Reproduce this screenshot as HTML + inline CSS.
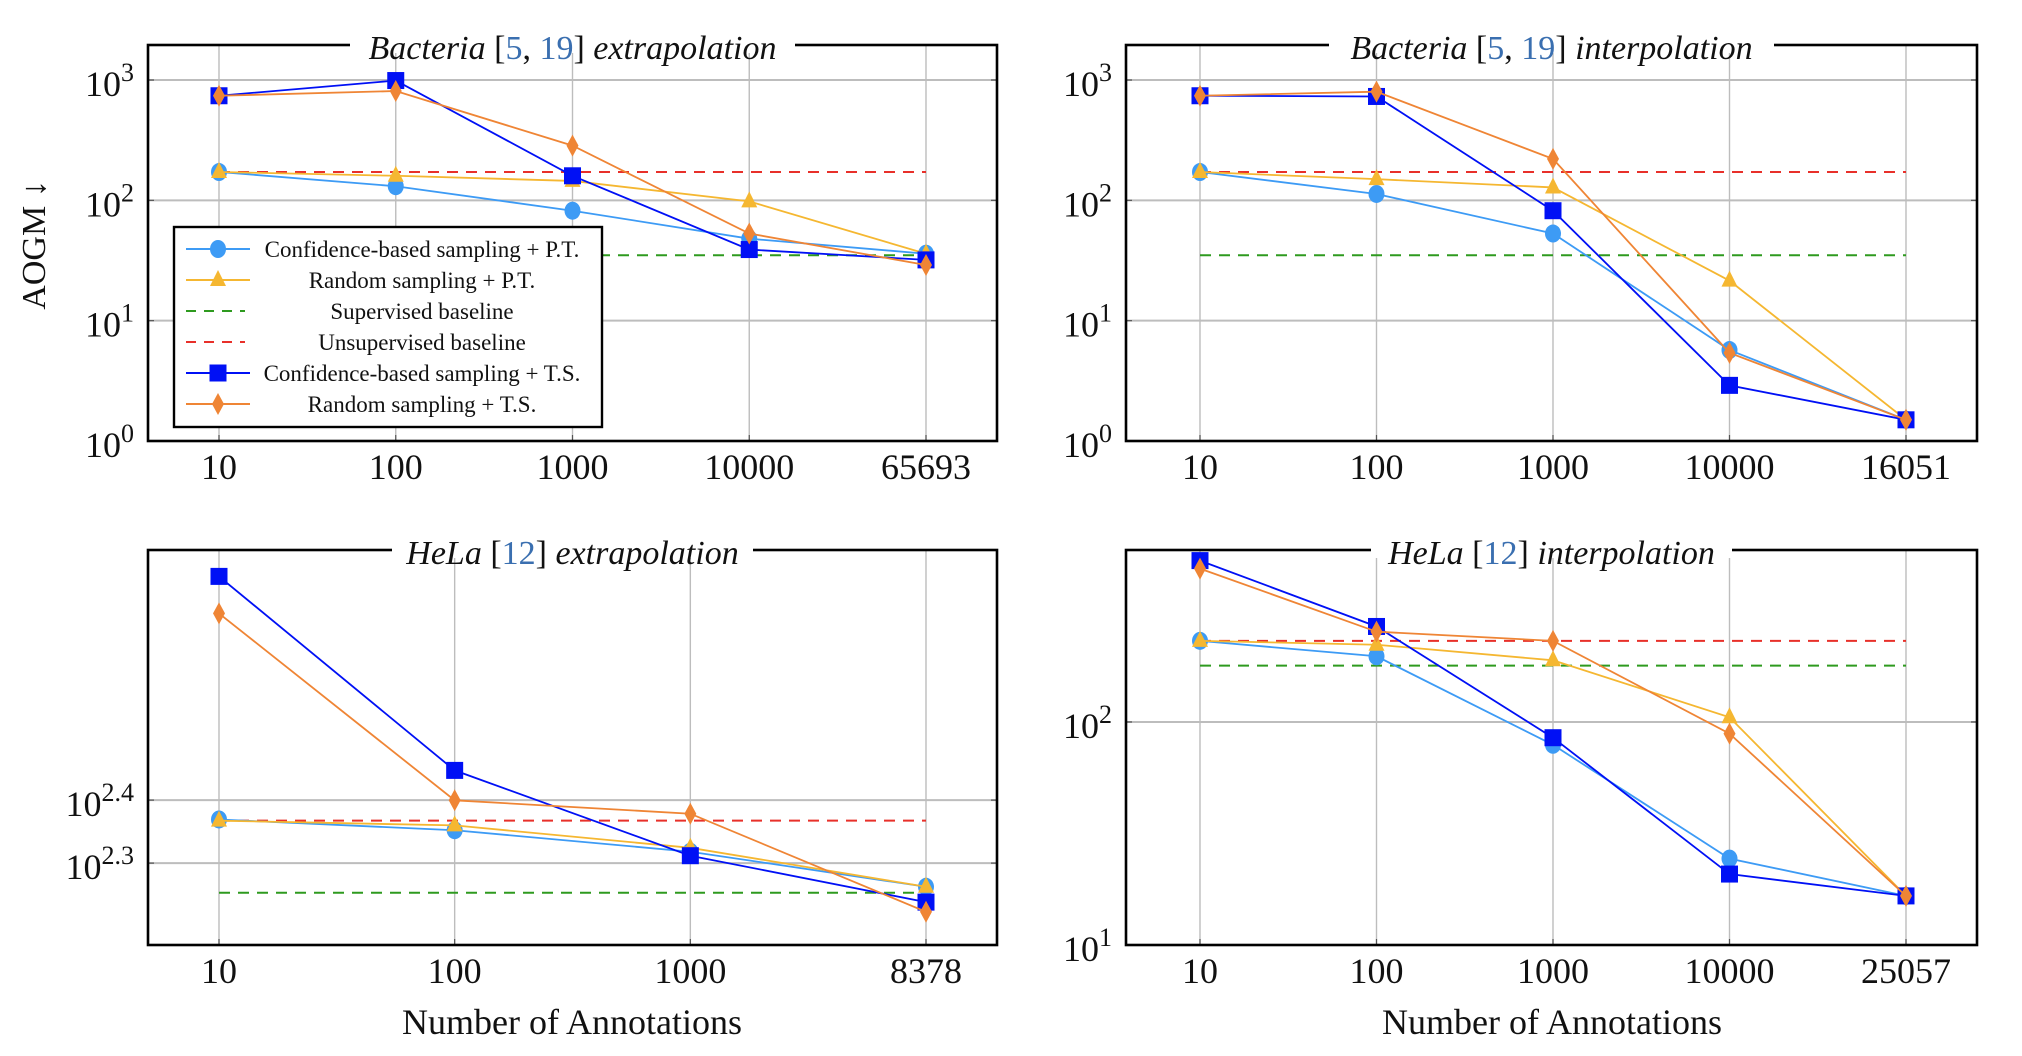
<!DOCTYPE html>
<html><head><meta charset="utf-8"><style>
html,body{margin:0;padding:0;background:#fff;}
svg{display:block;font-family:"Liberation Serif",serif;}
</style></head><body>
<svg id="fig" width="2022" height="1056" viewBox="0 0 2022 1056" xmlns="http://www.w3.org/2000/svg"></svg>
<script>
// ---- Chart data ----
const bactExtraCats = ["10","100","1000","10000","65693"];
const bactExtraConfPT = [172,131,82,48,36];
const bactExtraRandPT = [172,160,145,98,36];
const bactExtraConfTS = [740,990,160,39,32];
const bactExtraRandTS = [740,810,285,53,29];
const bactExtraSup = 35;
const bactExtraUnsup = 172;
const bactExtraTicks = ["0","1","2","3"];

const bactInterCats = ["10","100","1000","10000","16051"];
const bactInterConfPT = [172,113,53,5.7,1.5];
const bactInterRandPT = [172,150,128,21.5,1.5];
const bactInterConfTS = [740,730,82,2.9,1.5];
const bactInterRandTS = [740,800,221,5.4,1.5];
const bactInterSup = 35;
const bactInterUnsup = 172;
const bactInterTicks = ["0","1","2","3"];

const helaExtraCats = ["10","100","1000","8378"];
const helaExtraConfPT = [234,225,208,183];
const helaExtraRandPT = [233,229,211,183];
const helaExtraConfTS = [569,280,205,173];
const helaExtraRandTS = [497,251,239,167];
const helaExtraSup = 179;
const helaExtraUnsup = 233;
const helaExtraTicks = ["2.3","2.4"];

const helaInterCats = ["10","100","1000","10000","25057"];
const helaInterConfPT = [231,197,79,24.4,16.6];
const helaInterRandPT = [231,222,189,105,16.6];
const helaInterConfTS = [529,268,85,20.8,16.6];
const helaInterRandTS = [487,254,231,88.7,16.6];
const helaInterSup = 179;
const helaInterUnsup = 231;
const helaInterTicks = ["1","2"];

const NS="http://www.w3.org/2000/svg";
const svg=document.getElementById('fig');
function mk(tag,attrs,parent){const e=document.createElementNS(NS,tag);for(const k in attrs)e.setAttribute(k,attrs[k]);(parent||svg).appendChild(e);return e;}

const C={confPT:"#3d9bf5",randPT:"#f5b731",sup:"#2e9a1f",unsup:"#e8302a",confTS:"#0010f5",randTS:"#ef8535"};

function marker(g,type,x,y,color){
  let e;
  if(type==="circle") e=mk('ellipse',{cx:x,cy:y,rx:8,ry:9,fill:color},g);
  else if(type==="tri") e=mk('polygon',{points:`${x},${y-10} ${x+8},${y+6} ${x-8},${y+6}`,fill:color},g);
  else if(type==="square") e=mk('rect',{x:x-8.5,y:y-8.5,width:17,height:17,fill:color},g);
  else e=mk('polygon',{points:`${x},${y-11} ${x+6},${y} ${x},${y+11} ${x-6},${y}`,fill:color},g);
  
  
}

function chart(o){
  const g=mk('g',{});
  
  
  const {x0,x1,y0,y1,lmin,lmax}=o;
  const yS=v=>y1-(Math.log10(v)-lmin)/(lmax-lmin)*(y1-y0);
  const yL=l=>y1-(l-lmin)/(lmax-lmin)*(y1-y0);
  const n=o.cats.length;
  const xS=i=>o.px0+i*(o.px1-o.px0)/(n-1);
  o.cats.forEach((c,i)=>{
    const l=mk('line',{x1:xS(i),x2:xS(i),y1:y0,y2:y1,stroke:"#bdbdbd","stroke-width":1.4},g);
    
    
    mk('line',{x1:xS(i),x2:xS(i),y1:y1,y2:y1-6,stroke:"#555","stroke-width":1.2},g);
    const t=mk('text',{x:xS(i),y:y1+38,"font-size":36,"text-anchor":"middle",fill:"#111"},g);
    t.textContent=c;
    
    
  });
  o.ticks.forEach(tk=>{
    const yy=yL(parseFloat(tk));
    const l=mk('line',{x1:x0,x2:x1,y1:yy,y2:yy,stroke:"#bdbdbd","stroke-width":2},g);
    
    
    mk('line',{x1:x0,x2:x0+6,y1:yy,y2:yy,stroke:"#555","stroke-width":1.2},g);
    mk('line',{x1:x1,x2:x1-6,y1:yy,y2:yy,stroke:"#555","stroke-width":1.2},g);
    const t=mk('text',{x:x0-14,y:yy+16,"font-size":36,"text-anchor":"end",fill:"#111"},g);
    
    
    const a=mk('tspan',{},t);a.textContent="10";
    const b=mk('tspan',{dy:-15,"font-size":26},t);b.textContent=tk;
  });
  [[o.sup,C.sup,'supervised-baseline'],[o.unsup,C.unsup,'unsupervised-baseline']].forEach(([v,c,nm])=>{
    const l=mk('line',{x1:xS(0),x2:xS(n-1),y1:yS(v),y2:yS(v),stroke:c,"stroke-width":2,"stroke-dasharray":"11,8"},g);
    
    
  });
  const series=[[o.confPT,C.confPT,'circle','conf-pt'],[o.randPT,C.randPT,'tri','rand-pt'],[o.confTS,C.confTS,'square','conf-ts'],[o.randTS,C.randTS,'diamond','rand-ts']];
  series.forEach(([d,c,m,nm])=>{
    const sg=mk('g',{},g);
    
    
    mk('polyline',{points:d.map((v,i)=>xS(i)+','+yS(v)).join(' '),fill:'none',stroke:c,"stroke-width":1.8},sg);
    d.forEach((v,i)=>marker(sg,m,xS(i),yS(v),c));
  });
  const f=mk('rect',{x:x0,y:y0,width:x1-x0,height:y1-y0,fill:'none',stroke:'#000',"stroke-width":2.6},g);
  
  
  const tx=(x0+x1)/2;
  mk('rect',{x:tx-o.tw/2,y:y0-6,width:o.tw,height:14,fill:'#fff'},g);
  const t=mk('text',{x:tx,y:y0+14,"font-size":34,"text-anchor":"middle",fill:'#111'},g);
  
  
  o.title.forEach(([s,st])=>{const sp=mk('tspan',{},t);sp.textContent=s;
    if(st==='i')sp.setAttribute('font-style','italic');
    if(st==='b')sp.setAttribute('fill','#3a6fb0');});
}

chart({name:'bacteria-extrapolation-chart',x0:148,x1:997,y0:45,y1:441,lmin:0,lmax:3.291,px0:219,px1:926,
  cats:bactExtraCats,confPT:bactExtraConfPT,randPT:bactExtraRandPT,confTS:bactExtraConfTS,randTS:bactExtraRandTS,sup:bactExtraSup,unsup:bactExtraUnsup,ticks:bactExtraTicks,tw:445,
  title:[["Bacteria ",'i'],["[",''],["5",'b'],[", ",''],["19",'b'],["]  ",''],["extrapolation",'i']]});
chart({name:'bacteria-interpolation-chart',x0:1126,x1:1977,y0:45,y1:441,lmin:0,lmax:3.291,px0:1200,px1:1906,
  cats:bactInterCats,confPT:bactInterConfPT,randPT:bactInterRandPT,confTS:bactInterConfTS,randTS:bactInterRandTS,sup:bactInterSup,unsup:bactInterUnsup,ticks:bactInterTicks,tw:445,
  title:[["Bacteria ",'i'],["[",''],["5",'b'],[", ",''],["19",'b'],["]  ",''],["interpolation",'i']]});
chart({name:'hela-extrapolation-chart',x0:148,x1:997,y0:550,y1:945,lmin:2.170,lmax:2.797,px0:219,px1:926,
  cats:helaExtraCats,confPT:helaExtraConfPT,randPT:helaExtraRandPT,confTS:helaExtraConfTS,randTS:helaExtraRandTS,sup:helaExtraSup,unsup:helaExtraUnsup,ticks:helaExtraTicks,tw:361,
  title:[["HeLa ",'i'],["[",''],["12",'b'],["] ",''],["extrapolation",'i']]});
chart({name:'hela-interpolation-chart',x0:1126,x1:1977,y0:550,y1:945,lmin:1,lmax:2.771,px0:1200,px1:1906,
  cats:helaInterCats,confPT:helaInterConfPT,randPT:helaInterRandPT,confTS:helaInterConfTS,randTS:helaInterRandTS,sup:helaInterSup,unsup:helaInterUnsup,ticks:helaInterTicks,tw:361,
  title:[["HeLa ",'i'],["[",''],["12",'b'],["] ",''],["interpolation",'i']]});

let t=mk('text',{x:0,y:0,"font-size":34,"text-anchor":"middle",fill:'#111',transform:'translate(45,245) rotate(-90)'});
t.textContent="AOGM ↓";


t=mk('text',{x:572,y:1034,"font-size":36,"text-anchor":"middle",fill:'#111'});
t.textContent="Number of Annotations";


t=mk('text',{x:1552,y:1034,"font-size":36,"text-anchor":"middle",fill:'#111'});
t.textContent="Number of Annotations";



const lg=mk('g',{});


mk('rect',{x:174,y:227,width:428,height:200,fill:'#fff',stroke:'#000',"stroke-width":2.4},lg);
const entries=[["Confidence-based sampling + P.T.",C.confPT,'circle',false],["Random sampling + P.T.",C.randPT,'tri',false],["Supervised baseline",C.sup,null,true],["Unsupervised baseline",C.unsup,null,true],["Confidence-based sampling + T.S.",C.confTS,'square',false],["Random sampling + T.S.",C.randTS,'diamond',false]];
entries.forEach(([lab,c,m,dash],i)=>{
  const y=249+i*31;
  const eg=mk('g',{},lg);
  
  
  if(dash) mk('line',{x1:186,x2:245,y1:y,y2:y,stroke:c,"stroke-width":2,"stroke-dasharray":"10,8"},eg);
  else {mk('line',{x1:186,x2:250,y1:y,y2:y,stroke:c,"stroke-width":2},eg);marker(eg,m,218,y,c);}
  const tt=mk('text',{x:422,y:y+8,"font-size":23,"text-anchor":"middle",fill:'#111'},eg);
  tt.textContent=lab;
});
</script>
</body></html>
